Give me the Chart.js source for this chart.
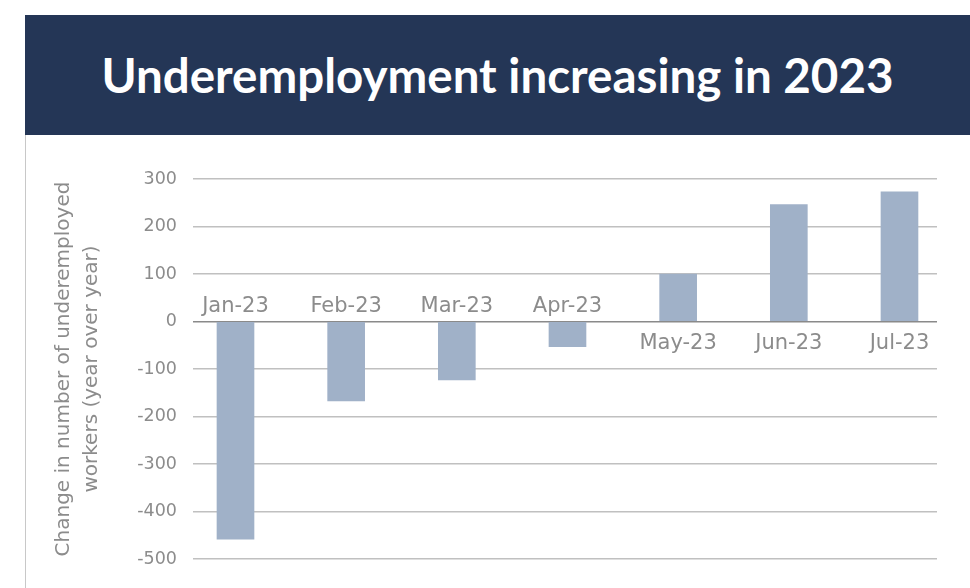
<!DOCTYPE html>
<html>
<head>
<meta charset="utf-8">
<script src="https://cdn.jsdelivr.net/npm/chart.js@4.4.0/dist/chart.umd.min.js"></script>
<style>
  html, body { margin: 0; padding: 0; background: #ffffff; }
  body { width: 970px; height: 588px; position: relative; overflow: hidden; }
  #header {
    position: absolute; left: 25px; top: 15px; width: 945px; height: 120px;
    background: #243656; color: #ffffff;
    font-family: Lato, "Open Sans", sans-serif; font-weight: 700; font-size: 47.5px;
    line-height: 120px; text-align: center; white-space: nowrap;
  }
  #wrap { position: absolute; left: 0; top: 135px; width: 970px; height: 453px; }
  #leftline { position: absolute; left: 25px; top: 135px; width: 1px; height: 453px; background: #c8c8c8; }
</style>
</head>
<body>
<div id="header">Underemployment increasing in 2023</div>
<div id="wrap"><canvas id="c" width="970" height="453"></canvas></div>
<div id="leftline"></div>
<script>
const categories = ["Jan-23", "Feb-23", "Mar-23", "Apr-23", "May-23", "Jun-23", "Jul-23"];
const values = [-458, -167, -123, -53, 100, 246, 273];
const yTicks = [300, 200, 100, 0, -100, -200, -300, -400, -500];
const yTitle = ["Change in number of underemployed", "workers (year over year)"];

const points = values.map((v, i) => ({ x: i, y: v }));

const catLabels = {
  id: 'catLabels',
  afterDatasetsDraw(chart) {
    const ctx = chart.ctx;
    const meta = chart.getDatasetMeta(0);
    const zeroY = chart.scales.y.getPixelForValue(0);
    ctx.save();
    ctx.font = '21px "DejaVu Sans"';
    ctx.fillStyle = '#8c8c8c';
    ctx.textAlign = 'center';
    ctx.textBaseline = 'alphabetic';
    meta.data.forEach((el, i) => {
      const v = values[i];
      const y = v < 0 ? zeroY - 10 : zeroY + 27;
      ctx.fillText(categories[i], el.x, y);
    });
    ctx.restore();
  }
};

new Chart(document.getElementById('c'), {
  type: 'bar',
  data: {
    datasets: [{
      data: points,
      backgroundColor: '#a0b1c8',
      borderWidth: 0,
      barThickness: 37
    }]
  },
  options: {
    responsive: false,
    animation: false,
    layout: { padding: { left: 0, right: 33, top: 44, bottom: 29 } },
    plugins: { legend: { display: false }, tooltip: { enabled: false } },
    scales: {
      x: {
        type: 'linear',
        offset: false,
        min: -0.384,
        max: 6.339,
        display: false
      },
      y: {
        min: -500,
        max: 300,
        afterFit(s) { s.width = 193; },
        afterBuildTicks(s) { s.ticks = yTicks.map(v => ({ value: v })); },
        border: { display: false },
        grid: {
          drawTicks: false,
          lineWidth: 1.5,
          color: (c) => (c.tick && c.tick.value === 0) ? '#8a8a8a' : '#c0c0c0'
        },
        ticks: {
          padding: 16,
          color: '#8c8c8c',
          font: { family: 'DejaVu Sans', size: 17.5 }
        },
        title: {
          display: true,
          text: yTitle,
          color: '#8c8c8c',
          font: { family: 'DejaVu Sans', size: 20, lineHeight: 1.4 },
          padding: { top: 50, bottom: 0 }
        }
      }
    }
  },
  plugins: [catLabels]
});
</script>
</body>
</html>
